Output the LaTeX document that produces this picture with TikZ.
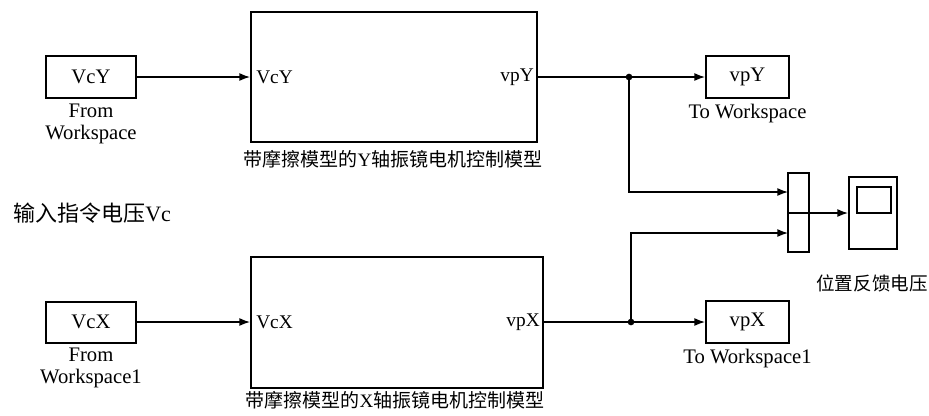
\documentclass[tikz,border=0pt]{standalone}
\usepackage{fontspec}
\setmainfont{Liberation Serif}
\newfontfamily\cjk{Noto Sans CJK SC}
\usetikzlibrary{arrows.meta}
\begin{document}
\begin{tikzpicture}[x=0.75pt,y=-0.75pt,
  blk/.style={draw,line width=1.5pt,inner sep=0pt,fill=white},
  wire/.style={line width=1pt},
  arr/.style={wire,-{Latex[length=8pt,width=6pt]}},
  dot/.style={circle,fill=black,inner sep=0pt,minimum size=5pt},
  lbl/.style={font=\fontsize{15.5pt}{16.5pt}\selectfont,align=center,inner sep=0pt},
  port/.style={font=\fontsize{14.5pt}{15pt}\selectfont,inner sep=0pt},
  captxt/.style={font=\fontsize{14.25pt}{16pt}\selectfont,inner sep=0pt}]
\useasboundingbox (0,0) rectangle (929,415);
% blocks
\node[blk,minimum width=67.5pt,minimum height=31.5pt,font=\fontsize{15.5pt}{16pt}\selectfont] (fy) at (91,77) {VcY};
\node[blk,minimum width=214.5pt,minimum height=97.5pt] (sy) at (394,77) {};
\node[blk,minimum width=62.25pt,minimum height=31.5pt,font=\fontsize{15.5pt}{16pt}\selectfont] (ty) at (747.5,77) {vpY};
\node[blk,minimum width=67.5pt,minimum height=30.75pt,font=\fontsize{15.5pt}{16pt}\selectfont] (fx) at (91,322) {VcX};
\node[blk,minimum width=219pt,minimum height=98.25pt] (sx) at (397,322) {};
\node[blk,minimum width=62.25pt,minimum height=31.5pt,font=\fontsize{15.5pt}{16pt}\selectfont] (tx) at (747.5,322) {vpX};
\node[blk,minimum width=15.75pt,minimum height=59.25pt] (mux) at (798.5,212.5) {};
\node[blk,minimum width=36pt,minimum height=54pt] (scope) at (873,213) {};
\node[draw,line width=1.5pt,inner sep=0pt,minimum width=25.5pt,minimum height=19.5pt] (screen) at (874,200) {};
% port labels
\node[port,anchor=west] (pvcy) at (256,77) {VcY};
\node[port,anchor=east] (pvpy) at (534,77) {vpY};
\node[port,anchor=west] (pvcx) at (256,322) {VcX};
\node[port,anchor=east] (pvpx) at (540,322) {vpX};
% captions
\node[lbl] (cfy) at (91,124) {From\\Workspace};
\node[lbl] (cty) at (747.5,114) {To Workspace};
\node[lbl] (cfx) at (91,368) {From\\Workspace1};
\node[lbl] (ctx) at (747.5,359) {To Workspace1};
\node[captxt] (csy) at (393,159) {{\cjk 带摩擦模型的}Y{\cjk 轴振镜电机控制模型}};
\node[captxt] (csx) at (395,400) {{\cjk 带摩擦模型的}X{\cjk 轴振镜电机控制模型}};
\node[inner sep=0pt,anchor=west,font=\fontsize{16.5pt}{18pt}\selectfont] (cin) at (13,213) {{\cjk 输入指令电压}Vc};
\node[inner sep=0pt,font=\fontsize{13.9pt}{15pt}\selectfont\cjk] (cfb) at (872,283) {位置反馈电压};
% junctions and mux inputs
\node[dot] (jy) at (629,77) {};
\node[dot] (jx) at (631,322) {};
\coordinate (m1) at (788,192);
\coordinate (m2) at (788,233);
% wires
\draw[arr] (fy.east) -- (sy.west);
\draw[arr] (fx.east) -- (sx.west);
\draw[wire] (sy.east) -- (jy.center);
\draw[arr] (jy.center) -- (ty.west);
\draw[wire] (sx.east) -- (jx.center);
\draw[arr] (jx.center) -- (tx.west);
\draw[arr] (jy.center) |- (m1);
\draw[arr] (jx.center) |- (m2);
\draw[wire] (mux.west |- scope.west) -- (mux.east |- scope.west);
\draw[arr] (mux.east |- scope.west) -- (scope.west);
\end{tikzpicture}
\end{document}
